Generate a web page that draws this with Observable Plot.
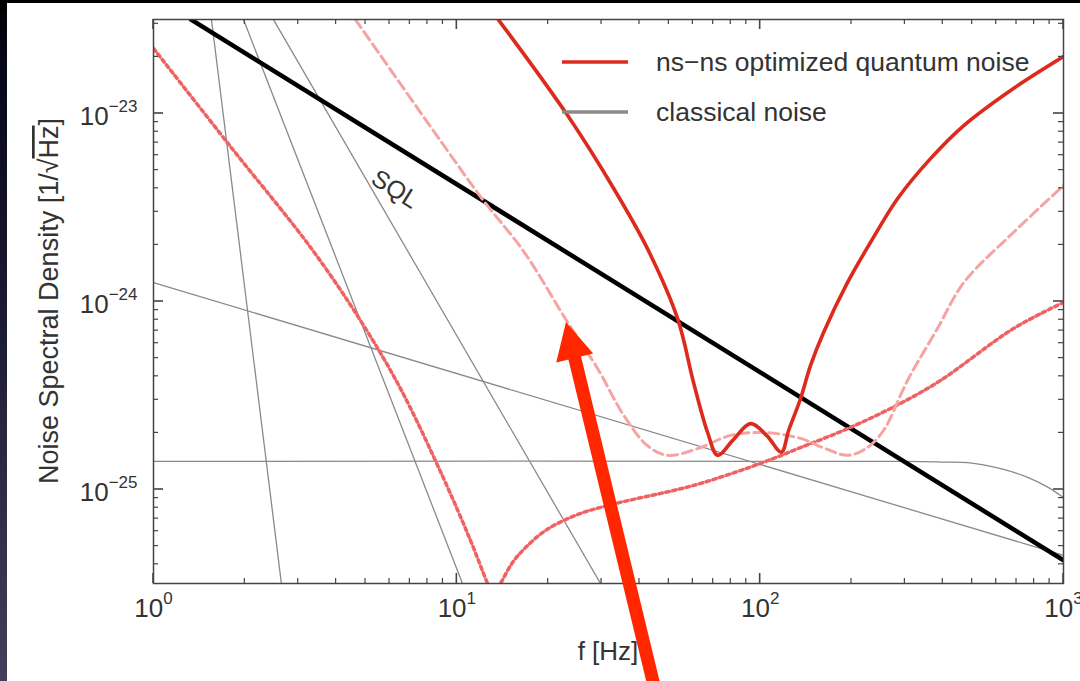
<!DOCTYPE html>
<html>
<head>
<meta charset="utf-8">
<script src="https://cdn.jsdelivr.net/npm/d3@7"></script>
<script src="https://cdn.jsdelivr.net/npm/@observablehq/plot@0.6"></script>
<style>
html, body { margin: 0; padding: 0; width: 1080px; height: 681px; overflow: hidden; }
body { position: relative; background: linear-gradient(to bottom, #000 0px, #06061a 60px, #1d1c35 340px, #423e5b 681px); }
#paper { position: absolute; left: 7px; top: 3px; right: 0; bottom: 0; background: #fff; }
#chart { position: absolute; left: 0; top: 0; }
</style>
</head>
<body>
<div id="paper"></div>
<div id="chart"></div>
<script>
// ---------- data ----------
// frequency [Hz] / noise spectral density [1/sqrt(Hz)]
const sqlF = [1.33, 1000];
const sqlN = [3.16e-23, 4.2e-26];

const seisF = [1.553, 2.64];
const seisN = [3.16e-23, 3.16e-26];
const lineAF = [1.98, 10.44];
const lineAN = [3.16e-23, 3.16e-26];
const lineBF = [2.486, 29.77];
const lineBN = [3.16e-23, 3.16e-26];
const thermF = [1, 1000];
const thermN = [1.26e-24, 4.46e-26];
const flatF = [1, 300, 400, 483, 621, 762, 887, 1000];
const flatN = [1.41e-25, 1.41e-25, 1.40e-25, 1.39e-25, 1.29e-25, 1.16e-25, 1.03e-25, 9.06e-26];

const solidF = [13.7, 23.2, 32.9, 42.5, 53.4, 60.3, 67.1, 72.4, 81.1, 93, 105, 117.5, 124.1, 135.9, 146.6, 161.8, 194, 231, 284, 365, 469, 684, 1000];
const solidN = [3.16e-23, 9.75e-24, 3.99e-24, 1.91e-24, 8.13e-25, 3.71e-25, 2.01e-25, 1.52e-25, 1.82e-25, 2.24e-25, 1.94e-25, 1.58e-25, 2.06e-25, 3.05e-25, 4.57e-25, 6.84e-25, 1.26e-24, 2.06e-24, 3.53e-24, 5.77e-24, 8.63e-24, 1.36e-23, 2.01e-23];

const dashF = [4.63, 9.31, 12.24, 16.6, 23.2, 29.1, 35.5, 42.5, 49.5, 62.2, 79.9, 102.6, 135.9, 164, 194, 223, 255, 306, 384, 469, 684, 1000];
const dashN = [3.16e-23, 6.35e-24, 3.44e-24, 1.85e-24, 7.73e-25, 4.40e-25, 2.48e-25, 1.71e-25, 1.52e-25, 1.65e-25, 1.94e-25, 2.01e-25, 1.87e-25, 1.65e-25, 1.52e-25, 1.65e-25, 2.06e-25, 3.80e-25, 7.18e-25, 1.26e-24, 2.33e-24, 4.14e-24];

const dotF = [1, 1.794, 3.294, 4.813, 6.52, 9.04, 11.09, 12.63, 13.2, 13.93, 15.27, 16.85, 19.6, 24.6, 31.4, 51.8, 63.6, 100, 135.9, 198.6, 290, 393, 684, 1000];
const dotN = [2.22e-23, 6.67e-24, 1.94e-24, 7.92e-25, 3.44e-25, 1.146e-25, 5.36e-26, 3.16e-26, 2.7e-26, 3.16e-26, 4.09e-26, 4.91e-26, 6.05e-26, 7.28e-26, 8.22e-26, 9.88e-26, 1.077e-25, 1.374e-25, 1.671e-25, 2.14e-25, 2.87e-25, 3.80e-25, 7.18e-25, 9.89e-25];

const xTickVals = [1, 10, 100, 1000];
const xTickExps = ["0", "1", "2", "3"];
const yTickVals = [1e-23, 1e-24, 1e-25];
const yTickExps = ["\u221223", "\u221224", "\u221225"];

const legendLabels = ["ns\u2212ns optimized quantum noise", "classical noise"];
const sqlLabelF = [6.25];
const sqlLabelN = [3.95e-24];
const sqlLabelText = ["SQL"];

const arrowF = [45.2, 22.99];      // tail, tip
const arrowN = [8.53e-27, 7.73e-25];

// ---------- styles ----------
const FONT = "'Liberation Sans', Arial, Helvetica, sans-serif";
const TEXT = "#333";
const TICK = "#444";
const GREY = "#8a8a8a";
const RED = "#dc2a1c";
const PINK = "#f4a5a3";
const DOTRED = "#ee6262";
const ARROW = "#ff2600";

const W = 1080, H = 681, ML = 153, MR = 17, MT = 19, MB = 98;

const series = (fs, ns) => fs.map((f, i) => ({f, n: ns[i]}));

const xMajor = xTickVals;
const xMinor = [];
for (const d of [1, 10, 100]) for (let k = 2; k <= 9; k++) xMinor.push(k * d);
const yMajor = yTickVals;
const yMinor = [];
for (const e of [-26, -25, -24, -23]) for (let k = 2; k <= 9; k++) {
  const v = k * Math.pow(10, e);
  if (v > Math.pow(10, -25.5) && v < Math.pow(10, -22.5)) yMinor.push(v);
}

const greyOpts = {x: "f", y: "n", stroke: GREY, strokeWidth: 1.3, clip: true};

const plot = Plot.plot({
  width: W, height: H,
  marginLeft: ML, marginRight: MR, marginTop: MT, marginBottom: MB,
  style: {background: "transparent", overflow: "visible"},
  x: {type: "log", domain: [1, 1000], axis: null},
  y: {type: "log", domain: [Math.pow(10, -25.5), Math.pow(10, -22.5)], axis: null},
  marks: [
    // classical noise
    Plot.line(series(seisF, seisN), greyOpts),
    Plot.line(series(lineAF, lineAN), greyOpts),
    Plot.line(series(lineBF, lineBN), greyOpts),
    Plot.line(series(thermF, thermN), greyOpts),
    Plot.line(series(flatF, flatN), {...greyOpts, curve: "catmull-rom"}),
    // SQL
    Plot.line(series(sqlF, sqlN), {x: "f", y: "n", stroke: "#000", strokeWidth: 4.5, clip: true}),
    // quantum noise variants
    Plot.line(series(dotF, dotN), {x: "f", y: "n", stroke: DOTRED, strokeWidth: 3.5, strokeDasharray: "3.5,3.5", curve: "catmull-rom", clip: true}),
    Plot.line(series(dashF, dashN), {x: "f", y: "n", stroke: PINK, strokeWidth: 3, strokeDasharray: "10,5", curve: "catmull-rom", clip: true}),
    Plot.line(series(solidF, solidN), {x: "f", y: "n", stroke: RED, strokeWidth: 3.6, curve: "catmull-rom", clip: true}),
    Plot.frame({stroke: TICK, strokeWidth: 1.5}),
    // tick labels
    Plot.text(xTickVals, {x: d => d, frameAnchor: "bottom", dy: 33, text: (d, i) => "10^" + xTickExps[i], fontSize: 26, fill: TEXT, fontFamily: FONT}),
    Plot.text(yTickVals, {y: d => d, frameAnchor: "left", textAnchor: "end", dx: -16, dy: 3, text: (d, i) => "10^" + yTickExps[i], fontSize: 26, fill: TEXT, fontFamily: FONT}),
    // SQL label
    Plot.text(series(sqlLabelF, sqlLabelN), {x: "f", y: "n", text: (d, i) => sqlLabelText[i], rotate: 32, fontSize: 25, fill: TEXT, fontFamily: FONT})
  ]
});

document.getElementById("chart").appendChild(plot);

const svg = d3.select(plot);
function scaleFn(s) {
  if (s && typeof s.apply === "function") return v => s.apply(v);
  return d3.scaleLog().domain(s.domain).range(s.range);
}
const X = scaleFn(plot.scale("x"));
const Y = scaleFn(plot.scale("y"));

// superscripts on tick labels
svg.selectAll("text").each(function () {
  const t = d3.select(this);
  const s = t.text();
  const m = /^10\^(.+)$/.exec(s);
  if (!m) return;
  t.text("");
  t.append("tspan").text("10");
  t.append("tspan").attr("dy", -13).attr("font-size", 17).text(m[1]);
});

// inward, mirrored ticks positioned by the plot's scales
const x0 = ML, x1 = W - MR, y0 = MT, y1 = H - MB;
const tg = svg.append("g").attr("stroke", TICK);
function xt(v, len, w) {
  const x = X(v);
  tg.append("line").attr("x1", x).attr("x2", x).attr("y1", y1).attr("y2", y1 - len).attr("stroke-width", w);
  tg.append("line").attr("x1", x).attr("x2", x).attr("y1", y0).attr("y2", y0 + len).attr("stroke-width", w);
}
function yt_(v, len, w) {
  const y = Y(v);
  tg.append("line").attr("y1", y).attr("y2", y).attr("x1", x0).attr("x2", x0 + len).attr("stroke-width", w);
  tg.append("line").attr("y1", y).attr("y2", y).attr("x1", x1).attr("x2", x1 - len).attr("stroke-width", w);
}
xMinor.forEach(v => xt(v, 5, 1.2));
xMajor.forEach(v => xt(v, 10, 1.6));
yMinor.forEach(v => yt_(v, 5, 1.2));
yMajor.forEach(v => yt_(v, 10, 1.6));

// axis titles
const ytitle = svg.append("text")
  .attr("transform", "translate(58,301) rotate(-90)")
  .attr("text-anchor", "middle")
  .attr("font-family", FONT).attr("font-size", 27).attr("fill", TEXT);
ytitle.append("tspan").text("Noise Spectral Density [1/\u221A");
ytitle.append("tspan").style("text-decoration", "overline").text("Hz");
ytitle.append("tspan").text("]");

svg.append("text")
  .attr("x", (ML + W - MR) / 2).attr("y", 660)
  .attr("text-anchor", "middle")
  .attr("font-family", FONT).attr("font-size", 26).attr("fill", TEXT)
  .text("f [Hz]");

// legend
const lg = svg.append("g").attr("font-family", FONT).attr("font-size", 26.5).attr("fill", TEXT).attr("text-anchor", "start");
const legendColors = [RED, GREY];
const legendRows = [62, 112];
legendLabels.forEach((lab, i) => {
  lg.append("line").attr("x1", 562).attr("x2", 628).attr("y1", legendRows[i]).attr("y2", legendRows[i])
    .attr("stroke", legendColors[i]).attr("stroke-width", 3.5);
  lg.append("text").attr("x", 656).attr("y", legendRows[i]).attr("dy", "0.35em").attr("text-anchor", "start").text(lab);
});

// annotation arrow
const tailX = X(arrowF[0]), tailY = Y(arrowN[0]);
const tipX = X(arrowF[1]), tipY = Y(arrowN[1]);
const dx = tailX - tipX, dy = tailY - tipY, L = Math.hypot(dx, dy);
const ux = dx / L, uy = dy / L;
const headLen = 37, headHalf = 19;
const bx = tipX + ux * headLen, by = tipY + uy * headLen;
svg.append("line")
  .attr("x1", bx - ux * 3).attr("y1", by - uy * 3)
  .attr("x2", tailX).attr("y2", tailY)
  .attr("stroke", ARROW).attr("stroke-width", 13);
svg.append("polygon")
  .attr("points", [[tipX, tipY], [bx + uy * headHalf, by - ux * headHalf], [bx - uy * headHalf, by + ux * headHalf]].map(p => p.join(",")).join(" "))
  .attr("fill", ARROW);
</script>
</body>
</html>
